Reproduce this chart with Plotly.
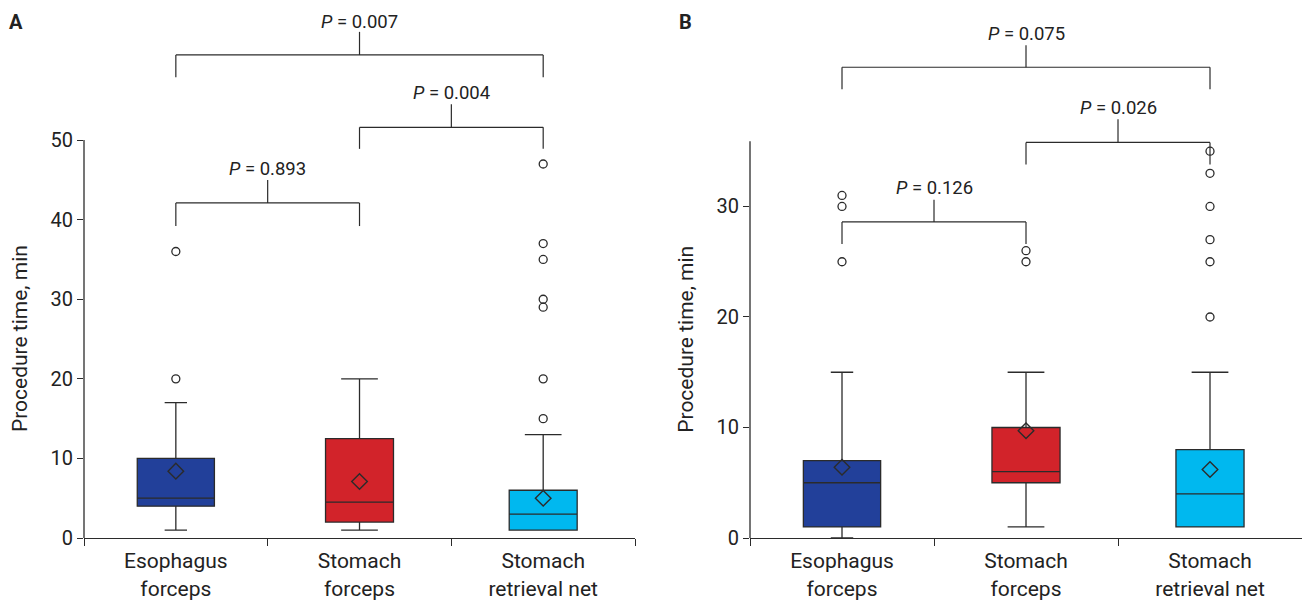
import plotly.graph_objects as go

# ---------------- data ----------------
categories = ["Esophagus<br>forceps", "Stomach<br>forceps", "Stomach<br>retrieval net"]
colors = ["#22409A", "#D2232A", "#00B8EF"]

# Panel A
a_q1 = [4, 2, 1]
a_median = [5, 4.5, 3]
a_q3 = [10, 12.5, 6]
a_low = [1, 1, 1]
a_high = [17, 20, 13]
a_mean = [8.4, 7.1, 5.0]
a_outliers = [[20, 36], [], [15, 20, 29, 30, 35, 37, 47]]
a_ticks = [0, 10, 20, 30, 40, 50]
a_axis_top = 50
a_pvalues = [("<i>P</i> = 0.893", 0, 1, 39.2, 42.1, 45.0, 46.4),
             ("<i>P</i> = 0.004", 1, 2, 48.9, 51.6, 54.5, 55.9),
             ("<i>P</i> = 0.007", 0, 2, 57.9, 60.7, 63.6, 64.9)]

# Panel B
b_q1 = [1, 5, 1]
b_median = [5, 6, 4]
b_q3 = [7, 10, 8]
b_low = [0, 1, 1]
b_high = [15, 15, 15]
b_mean = [6.4, 9.7, 6.2]
b_outliers = [[25, 30, 31], [25, 26], [20, 25, 27, 30, 33, 35]]
b_ticks = [0, 10, 20, 30]
b_axis_top = 35.9
b_pvalues = [("<i>P</i> = 0.126", 0, 1, 26.6, 28.6, 30.6, 31.7),
             ("<i>P</i> = 0.026", 1, 2, 33.8, 35.8, 37.9, 38.9),
             ("<i>P</i> = 0.075", 0, 2, 40.6, 42.6, 44.6, 45.6)]

box_widths = [0.42, 0.37, 0.37]
whisker_widths = [0.29, 0.54, 0.54]

LINE = "#2b2b2b"
TEXT = "#222222"
FONT = "Roboto"

fig = go.Figure()


def add_panel(q1, med, q3, low, high, mean, outl, xa, ya):
    for i, cat in enumerate(categories):
        fig.add_trace(go.Box(
            x=[cat], q1=[q1[i]], median=[med[i]], q3=[q3[i]],
            lowerfence=[low[i]], upperfence=[high[i]],
            boxpoints=False, width=box_widths[i], whiskerwidth=whisker_widths[i],
            fillcolor=colors[i], line=dict(color=LINE, width=1.3),
            xaxis=xa, yaxis=ya, showlegend=False, hoverinfo="skip"))
    ox, oy = [], []
    for i, cat in enumerate(categories):
        for v in outl[i]:
            ox.append(cat)
            oy.append(v)
    fig.add_trace(go.Scatter(
        x=ox, y=oy, mode="markers", xaxis=xa, yaxis=ya, showlegend=False,
        marker=dict(symbol="circle-open", size=8, color=LINE, line=dict(width=1.3))))
    fig.add_trace(go.Scatter(
        x=categories, y=mean, mode="markers", xaxis=xa, yaxis=ya, showlegend=False,
        marker=dict(symbol="diamond-open", size=12, color=LINE, line=dict(width=1.4))))


add_panel(a_q1, a_median, a_q3, a_low, a_high, a_mean, a_outliers, "x", "y")
add_panel(b_q1, b_median, b_q3, b_low, b_high, b_mean, b_outliers, "x2", "y2")

shapes = []
annotations = []


def add_brackets(pvals, xref, yref):
    for text, i, j, yleg, ybar, ystem, ytxt in pvals:
        xm = (i + j) / 2
        ln = dict(color=LINE, width=1.2)
        shapes.append(dict(type="line", xref=xref, yref=yref, x0=i, x1=i, y0=yleg, y1=ybar, line=ln))
        shapes.append(dict(type="line", xref=xref, yref=yref, x0=j, x1=j, y0=yleg, y1=ybar, line=ln))
        shapes.append(dict(type="line", xref=xref, yref=yref, x0=i, x1=j, y0=ybar, y1=ybar, line=ln))
        shapes.append(dict(type="line", xref=xref, yref=yref, x0=xm, x1=xm, y0=ybar, y1=ystem, line=ln))
        annotations.append(dict(xref=xref, yref=yref, x=xm, y=ytxt, text=text, showarrow=False,
                                font=dict(family=FONT, size=18.5, color=TEXT),
                                xanchor="center", yanchor="middle"))


add_brackets(a_pvalues, "x", "y")
add_brackets(b_pvalues, "x2", "y2")

# y-axis lines (only up to the top of the axis)
shapes.append(dict(type="line", xref="x domain", yref="y", x0=0, x1=0, y0=0, y1=a_axis_top,
                   line=dict(color=LINE, width=1.3)))
shapes.append(dict(type="line", xref="x2 domain", yref="y2", x0=0, x1=0, y0=0, y1=b_axis_top,
                   line=dict(color=LINE, width=1.3)))

# y-axis titles and panel labels
annotations.append(dict(xref="paper", yref="y", x=-0.0525, y=25, text="Procedure time, min",
                        textangle=-90, showarrow=False, xanchor="center", yanchor="middle",
                        font=dict(family=FONT, size=21, color=TEXT)))
annotations.append(dict(xref="paper", yref="y2", x=0.494, y=18, text="Procedure time, min",
                        textangle=-90, showarrow=False, xanchor="center", yanchor="middle",
                        font=dict(family=FONT, size=21, color=TEXT)))
annotations.append(dict(xref="paper", yref="paper", x=-0.0555, y=1.0, text="<b>A</b>",
                        showarrow=False, xanchor="center", yanchor="top",
                        font=dict(family=FONT, size=20, color=TEXT)))
annotations.append(dict(xref="paper", yref="paper", x=0.494, y=1.0, text="<b>B</b>",
                        showarrow=False, xanchor="center", yanchor="top",
                        font=dict(family=FONT, size=20, color=TEXT)))

xcommon = dict(type="category", categoryorder="array", categoryarray=categories,
               range=[-0.5, 2.5], tickson="boundaries", ticks="outside", ticklen=7,
               tickcolor=LINE, tickwidth=1.3, showline=True, linecolor=LINE, linewidth=1.3,
               showgrid=False, zeroline=False, automargin=False, ticklabelstandoff=4,
               tickfont=dict(family=FONT, size=21, color=TEXT))
ycommon = dict(ticks="outside", ticklen=6, tickcolor=LINE, tickwidth=1.3, showline=False,
               showgrid=False, zeroline=False, automargin=False,
               tickfont=dict(family=FONT, size=20, color=TEXT))

fig.update_layout(
    width=1304, height=600,
    margin=dict(l=84, r=2, t=8, b=62),
    plot_bgcolor="white", paper_bgcolor="white",
    boxmode="overlay", showlegend=False,
    xaxis=dict(domain=[0, 0.4524], **xcommon),
    xaxis2=dict(domain=[0.5468, 1], anchor="y2", **xcommon),
    yaxis=dict(range=[0, 66.6], tickvals=a_ticks, **ycommon),
    yaxis2=dict(range=[0, 47.96], tickvals=b_ticks, anchor="x2", **ycommon),
    shapes=shapes, annotations=annotations,
)

fig.write_html("out.html", config={"displayModeBar": False},
               post_script="document.body.style.margin='0';document.body.style.padding='0';")
